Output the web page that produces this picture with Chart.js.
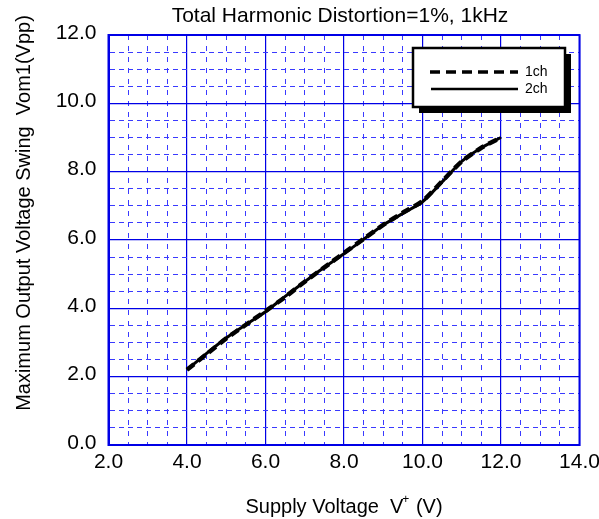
<!DOCTYPE html>
<html>
<head>
<meta charset="utf-8">
<script src="https://cdn.jsdelivr.net/npm/chart.js@4"></script>
<style>
  html, body { margin: 0; padding: 0; background: #fff; }
  #chart { display: block; }
</style>
</head>
<body>
<canvas id="chart" width="599" height="519"></canvas>
<script>
// ---- data ----
const supplyV = [4.0, 4.5, 5.0, 5.5, 6.0, 6.5, 7.0, 7.5, 8.0, 8.5, 9.0, 9.5, 10.0, 10.5, 11.0, 11.5, 12.0];
const vom1ch  = [2.20, 2.66, 3.12, 3.52, 3.92, 4.33, 4.78, 5.20, 5.62, 6.03, 6.44, 6.80, 7.14, 7.72, 8.30, 8.70, 9.00];
const vom2ch  = [2.20, 2.68, 3.13, 3.52, 3.90, 4.35, 4.78, 5.20, 5.60, 6.02, 6.44, 6.78, 7.12, 7.70, 8.30, 8.70, 9.00];
const seriesNames = ['1ch', '2ch'];
const xTicks = [2, 4, 6, 8, 10, 12, 14];
const yTicks = [0, 2, 4, 6, 8, 10, 12];

const chartTitle = 'Total Harmonic Distortion=1%, 1kHz';
const yTitle = 'Maximum Output Voltage Swing  Vom1(Vpp)';
const xTitle = ['Supply Voltage  V', '+', ' (V)'];

const FONT = '"Liberation Sans", Arial, sans-serif';
const MAJOR = '#0000e6';
const MINOR = '#3a3aff';

const isMajor = (v, list) => list.some(t => Math.abs(t - v) < 1e-6);

// titles, legend box and plot frame
const decor = {
  id: 'decor',
  afterDraw(chart) {
    const { ctx, chartArea: a } = chart;
    ctx.save();

    // frame
    ctx.strokeStyle = MAJOR;
    ctx.lineWidth = 2;
    ctx.strokeRect(a.left, a.top, a.right - a.left, a.bottom - a.top);

    ctx.fillStyle = '#000';
    ctx.font = '21px ' + FONT;
    ctx.textAlign = 'center';
    ctx.textBaseline = 'alphabetic';
    ctx.fillText(chartTitle, (a.left + a.right) / 2 - 4, 22);

    // y title
    ctx.save();
    ctx.translate(30, 213);
    ctx.rotate(-Math.PI / 2);
    ctx.font = '20px ' + FONT;
    ctx.fillText(yTitle, 0, 0);
    ctx.restore();

    // x title with superscript
    ctx.font = '20px ' + FONT;
    const w0 = ctx.measureText(xTitle[0]).width;
    ctx.font = '12px ' + FONT;
    const w1 = ctx.measureText(xTitle[1]).width;
    ctx.font = '20px ' + FONT;
    const w2 = ctx.measureText(xTitle[2]).width;
    let x = (a.left + a.right) / 2 - (w0 + w1 + w2) / 2;
    ctx.textAlign = 'left';
    ctx.fillText(xTitle[0], x, 513);
    ctx.font = '12px ' + FONT;
    ctx.fillText(xTitle[1], x + w0 - 1, 503);
    ctx.font = '20px ' + FONT;
    ctx.fillText(xTitle[2], x + w0 + w1, 513);

    // legend box with shadow
    const bx = 413, by = 48, bw = 152, bh = 59;
    ctx.fillStyle = '#000';
    ctx.fillRect(bx + 6, by + 6, bw, bh);
    ctx.fillStyle = '#fff';
    ctx.fillRect(bx, by, bw, bh);
    ctx.strokeStyle = '#000';
    ctx.lineWidth = 2.5;
    ctx.strokeRect(bx, by, bw, bh);

    ctx.lineWidth = 3.5;
    ctx.setLineDash([10, 6]);
    ctx.beginPath(); ctx.moveTo(430, 72); ctx.lineTo(518, 72); ctx.stroke();
    ctx.setLineDash([]);
    ctx.lineWidth = 2.5;
    ctx.beginPath(); ctx.moveTo(431, 89); ctx.lineTo(518, 89); ctx.stroke();

    ctx.fillStyle = '#000';
    ctx.font = '14px ' + FONT;
    ctx.textBaseline = 'middle';
    ctx.fillText(seriesNames[0], 525, 72);
    ctx.fillText(seriesNames[1], 525, 89);
    ctx.restore();
  }
};

const toPoints = ys => supplyV.map((v, i) => ({ x: v, y: ys[i] }));

new Chart(document.getElementById('chart'), {
  type: 'line',
  data: {
    datasets: [
      { label: seriesNames[1], data: toPoints(vom2ch), borderColor: '#000', borderWidth: 3,
        pointRadius: 0, tension: 0.25, fill: false },
      { label: seriesNames[0], data: toPoints(vom1ch), borderColor: '#000', borderWidth: 4.5,
        borderDash: [9, 5], pointRadius: 0, tension: 0.25, fill: false }
    ]
  },
  options: {
    responsive: false,
    animation: false,
    events: [],
    layout: { padding: { left: 0, right: 19.5, top: 35, bottom: 0 } },
    plugins: { legend: { display: false }, title: { display: false }, tooltip: { enabled: false } },
    scales: {
      x: {
        type: 'linear', min: 2, max: 14,
        afterFit: s => { s.height = 74; s.paddingLeft = 0; s.paddingRight = 0; },
        ticks: {
          stepSize: 0.5, autoSkip: false, maxRotation: 0, padding: 5,
          color: '#000', font: { family: FONT, size: 21 },
          callback: v => isMajor(v, xTicks) ? v.toFixed(1) : ''
        },
        grid: {
          drawTicks: false,
          color: c => isMajor(c.tick.value, xTicks) ? MAJOR : MINOR,
          lineWidth: c => isMajor(c.tick.value, xTicks) ? 1.2 : 1
        },
        border: {
          color: MAJOR, width: 2,
          dash: c => (c.tick && !isMajor(c.tick.value, xTicks)) ? [5, 6] : []
        }
      },
      y: {
        type: 'linear', min: 0, max: 12,
        afterFit: s => { s.width = 108.5; s.paddingTop = 0; s.paddingBottom = 0; },
        ticks: {
          stepSize: 0.5, autoSkip: false, padding: 12, labelOffset: -2,
          color: '#000', font: { family: FONT, size: 21 },
          callback: v => isMajor(v, yTicks) ? v.toFixed(1) : ''
        },
        grid: {
          drawTicks: false,
          color: c => isMajor(c.tick.value, yTicks) ? MAJOR : MINOR,
          lineWidth: c => isMajor(c.tick.value, yTicks) ? 1.2 : 1
        },
        border: {
          color: MAJOR, width: 2,
          dash: c => (c.tick && !isMajor(c.tick.value, yTicks)) ? [5, 4] : []
        }
      }
    }
  },
  plugins: [decor]
});
</script>
</body>
</html>
